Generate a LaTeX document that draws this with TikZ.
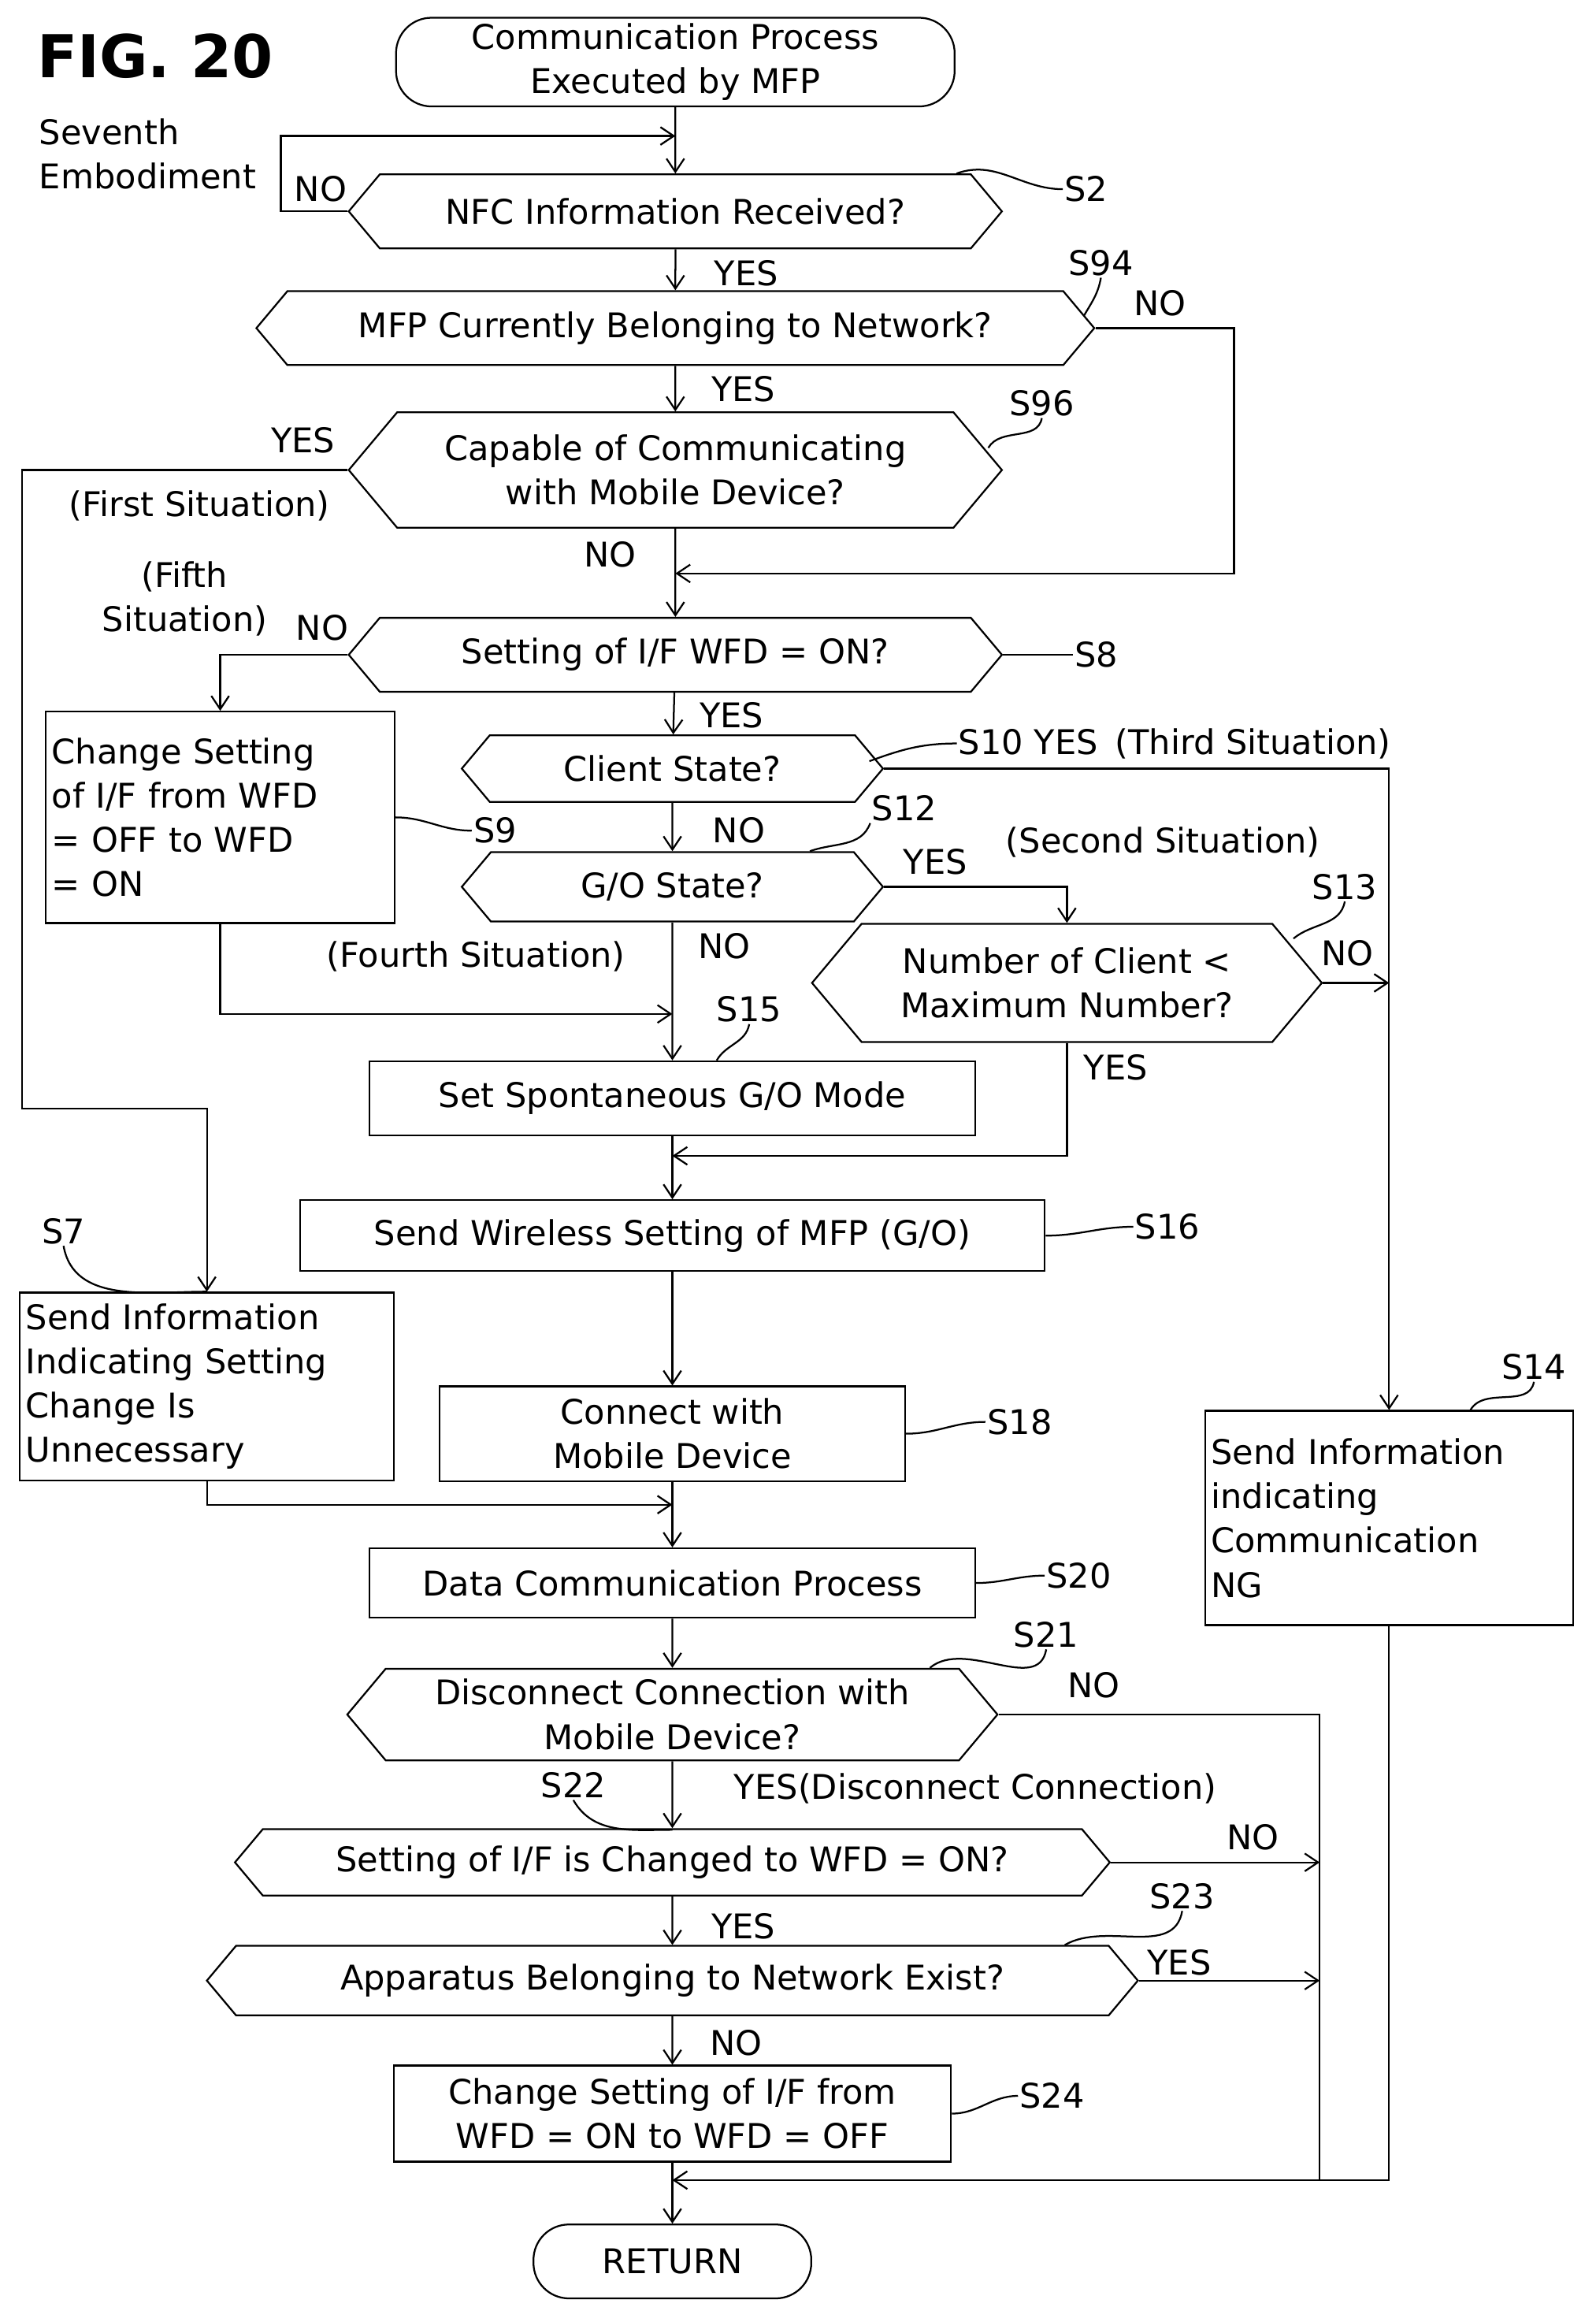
\documentclass[tikz,border=0pt]{standalone}
\usepackage{fontspec}
\setmainfont{DejaVu Sans}
\usetikzlibrary{shapes.symbols,arrows.meta}

\tikzset{
  hexa/.style={draw,line width=1.2pt,shape=signal,signal to=west and east,signal pointer angle=100,inner sep=2pt,align=center},
  box/.style={draw,line width=1.2pt,inner sep=4pt,align=center},
  term/.style={draw,line width=1.2pt,rounded corners=24pt,align=center},
  conn/.style={line width=1.2pt,-{Straight Barb[length=9pt,width=12pt]}},
  line/.style={line width=1.2pt},
  lbl/.style={inner sep=1pt},
}

\begin{document}
\begin{tikzpicture}[x=1pt,y=-1pt,font=\fontsize{23}{30}\selectfont]
\useasboundingbox (0,0) rectangle (1080,1571);

% titles
\node[lbl,font=\bfseries\fontsize{40}{44}\selectfont] (fig) at (105,38) {FIG. 20};
\node[lbl,align=left] (emb) at (100,104) {Seventh\\Embodiment};

% nodes
\node[term,minimum width=378,minimum height=60] (start) at (457,42) {Communication Process\\Executed by MFP};
\node[hexa,minimum width=442,minimum height=50] (s2) at (457,143) {NFC Information Received?};
\node[hexa,minimum width=567,minimum height=50] (s94) at (457,222) {MFP Currently Belonging to Network?};
\node[hexa,minimum width=442,minimum height=78] (s96) at (457,318) {Capable of Communicating\\with Mobile Device?};
\node[hexa,minimum width=442,minimum height=50] (s8) at (457,443) {Setting of I/F WFD = ON?};
\node[box,align=left,text width=228,minimum height=143] (s9) at (149,553) {Change Setting\\of I/F from WFD\\= OFF to WFD\\= ON};
\node[hexa,minimum width=285,minimum height=45] (s10) at (455,520) {Client State?};
\node[hexa,minimum width=285,minimum height=47] (s12) at (455,600) {G/O State?};
\node[hexa,minimum width=345,minimum height=80] (s13) at (722,665) {Number of Client <\\Maximum Number?};
\node[box,minimum width=410,minimum height=50] (s15) at (455,743) {Set Spontaneous G/O Mode};
\node[box,minimum width=504,minimum height=48] (s16) at (455,836) {Send Wireless Setting of MFP (G/O)};
\node[box,align=left,text width=245,minimum height=127] (s7) at (140,938) {Send Information\\Indicating Setting\\Change Is\\Unnecessary};
\node[box,minimum width=315,minimum height=64] (s18) at (455,970) {Connect with\\Mobile Device};
\node[box,align=left,text width=241,minimum height=145] (s14) at (940,1027) {Send Information\\indicating\\Communication\\NG};
\node[box,minimum width=410,minimum height=47] (s20) at (455,1071) {Data Communication Process};
\node[hexa,minimum width=440,minimum height=62] (s21) at (455,1160) {Disconnect Connection with\\Mobile Device?};
\node[hexa,minimum width=592,minimum height=45] (s22) at (455,1260) {Setting of I/F is Changed to WFD = ON?};
\node[hexa,minimum width=630,minimum height=47] (s23) at (455,1340) {Apparatus Belonging to Network Exist?};
\node[box,minimum width=377,minimum height=65] (s24) at (455,1430) {Change Setting of I/F from\\WFD = ON to WFD = OFF};
\node[term,minimum width=188,minimum height=50] (ret) at (455,1530) {RETURN};

% step labels
\node[lbl] (l2) at (735,128) {S2};
\node[lbl] (l94) at (745,178) {S94};
\node[lbl] (l96) at (705,273) {S96};
\node[lbl] (l8) at (742,443) {S8};
\node[lbl] (l9) at (335,562) {S9};
\node[lbl] (l10) at (795,503) {S10 YES\enspace(Third Situation)};
\node[lbl] (l12) at (612,547) {S12};
\node[lbl] (l13) at (910,600) {S13};
\node[lbl] (l15) at (507,683) {S15};
\node[lbl] (l16) at (790,830) {S16};
\node[lbl] (l7) at (43,833) {S7};
\node[lbl] (l18) at (690,962) {S18};
\node[lbl] (l14) at (1038,925) {S14};
\node[lbl] (l20) at (730,1066) {S20};
\node[lbl] (l21) at (708,1106) {S21};
\node[lbl] (l22) at (388,1208) {S22};
\node[lbl] (l23) at (800,1283) {S23};
\node[lbl] (l24) at (712,1418) {S24};

% squiggles
\draw[line] (s2.north east) ++(-10,0) to[out=20,in=180] (l2.west);
\draw[line] (s94.east) ++(-8,-8) to[out=60,in=-100] (l94.south);
\draw[line] (s96.east) ++(-10,-15) to[out=60,in=-100] (l96.south);
\draw[line] (s8.east) to[out=0,in=180] (l8.west);
\draw[line] (s9.east) to[out=0,in=180] (l9.west);
\draw[line] (s10.east) ++(-10,-5) to[out=20,in=180] (l10.west);
\draw[line] (s12.north east) ++(-30,0) to[out=20,in=-110] (l12.south west);
\draw[line] (s13.east) ++(-20,-30) to[out=40,in=-100] (l13.south);
\draw[line] (s15.north) ++(30,0) to[out=60,in=-100] (l15.south);
\draw[line] (s16.east) to[out=0,in=180] (l16.west);
\draw[line] (l7.south) to[out=-80,in=180] (s7.north);
\draw[line] (s18.east) to[out=0,in=180] (l18.west);
\draw[line] (s14.north east) ++(-70,0) to[out=60,in=-100] (l14.south);
\draw[line] (s20.east) to[out=0,in=180] (l20.west);
\draw[line] (s21.north east) ++(-20,0) to[out=40,in=-100] (l21.south);
\draw[line] (l22.south) to[out=-60,in=180] (455,1238);
\draw[line] (s23.north east) ++(-30,0) to[out=30,in=-100] (l23.south);
\draw[line] (s24.east) to[out=0,in=180] (l24.west);

% branch labels
\node[lbl] (no2) at (217,128) {NO};
\node[lbl] (yes2) at (505,185) {YES};
\node[lbl] (no94) at (785,205) {NO};
\node[lbl] (yes94) at (503,263) {YES};
\node[lbl] (yes96) at (205,298) {YES};
\node[lbl] (sit1) at (135,342) {(First Situation)};
\node[lbl] (no96) at (413,375) {NO};
\node[lbl,align=center] (sit5) at (125,405) {(Fifth\\Situation)};
\node[lbl] (no8) at (218,425) {NO};
\node[lbl] (yes8) at (495,484) {YES};
\node[lbl] (no10) at (500,562) {NO};
\node[lbl] (yes12) at (633,583) {YES};
\node[lbl] (sit2) at (787,570) {(Second Situation)};
\node[lbl] (sit4) at (322,647) {(Fourth Situation)};
\node[lbl] (no12) at (490,640) {NO};
\node[lbl] (no13) at (912,645) {NO};
\node[lbl] (yes13) at (755,722) {YES};
\node[lbl] (no21) at (740,1140) {NO};
\node[lbl] (yes21) at (660,1210) {YES(Disconnect Connection)};
\node[lbl] (no22) at (848,1243) {NO};
\node[lbl] (yes22) at (503,1303) {YES};
\node[lbl] (yes23) at (798,1328) {YES};
\node[lbl] (no23) at (498,1382) {NO};

% helper coordinates
\coordinate (c2) at (457,92);
\coordinate (c94) at (457,388);
\coordinate (c15) at (455,686);
\coordinate (c16) at (455,782);
\coordinate (c20) at (455,1018);
\coordinate (cret) at (455,1475);
\coordinate (cr) at (893,1475);

% connectors
\draw[conn] (start) -- (s2);
\draw[conn] (s2.west) -- (190,143) |- (c2);
\draw[conn] (s2) -- (s94);
\draw[conn] (s94) -- (s96);
\draw[conn] (s94.east) -| (835,388) -- (c94);
\draw[conn] (s96) -- (s8);
\draw[conn] (s96.west) -| (15,750) -| (s7.north);
\draw[conn] (s8.west) -| (s9.north);
\draw[conn] (s8) -- (s10);
\draw[conn] (s10) -- (s12);
\draw[conn] (s10.east) -| (s14.north);
\draw[conn] (s12.east) -| (s13.north);
\draw[conn] (s12) -- (s15);
\draw[conn] (s9.south) |- (c15);
\draw[conn] (s13.east) -- (940,665);
\draw[conn] (s13.south) |- (c16);
\draw[conn] (s15) -- (s16);
\draw[conn] (s16) -- (s18);
\draw[conn] (s7.south) |- (c20);
\draw[conn] (s18) -- (s20);
\draw[conn] (s20) -- (s21);
\draw[conn] (s21) -- (s22);
\draw[line] (s21.east) -| (cr);
\draw[conn] (s22.east) -- (893,1260);
\draw[conn] (s22) -- (s23);
\draw[conn] (s23.east) -- (893,1340);
\draw[conn] (s23) -- (s24);
\draw[conn] (s14.south) |- (cret);
\draw[conn] (s24) -- (ret);
\end{tikzpicture}
\end{document}
